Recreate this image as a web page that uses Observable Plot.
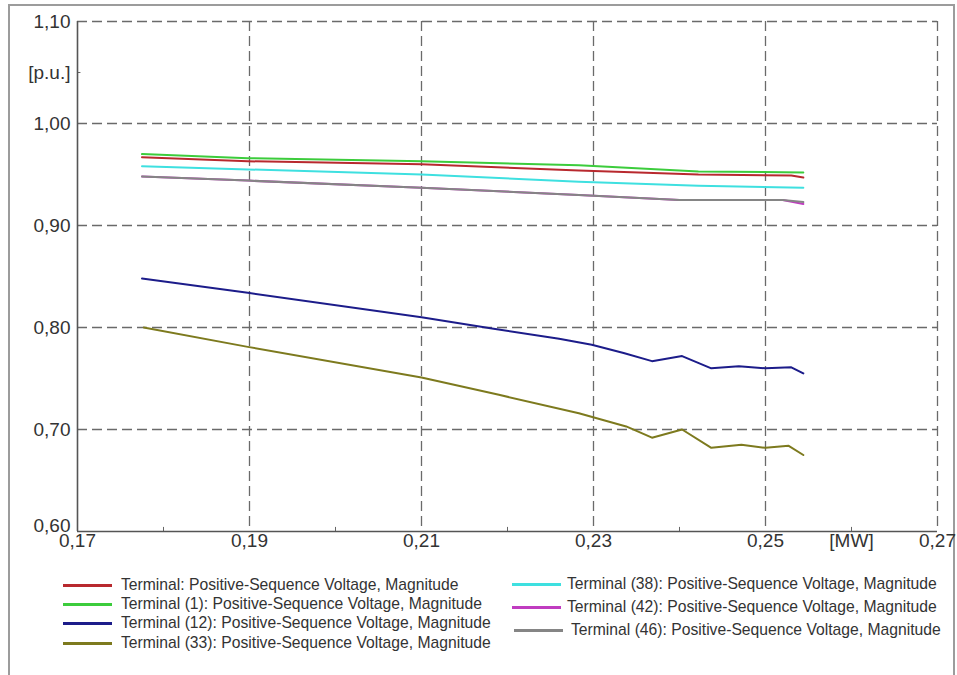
<!DOCTYPE html>
<html>
<head>
<meta charset="utf-8">
<script src="https://cdn.jsdelivr.net/npm/d3@7"></script>
<script src="https://cdn.jsdelivr.net/npm/@observablehq/plot@0.6"></script>
<style>
  html, body { margin: 0; padding: 0; background: #fff; }
  body { width: 957px; height: 675px; position: relative; overflow: hidden; font-family: "Liberation Sans", Arial, sans-serif; }
  #frame { position: absolute; left: 8px; top: 4px; width: 943px; height: 700px; border: 2px solid #9c9c9c; border-bottom: none; }
  #chart { position: absolute; left: 0; top: 0; }
  .leg { position: absolute; font-size: 15.7px; color: #333; white-space: nowrap; }
  .leg .sw { position: absolute; height: 3px; }
  .leg .tx { position: absolute; line-height: 18px; }
</style>
</head>
<body>
<div id="frame"></div>
<div id="chart"></div>
<div id="legend"></div>
<script>
// ---- data (x in MW, y in p.u.) ----
const seriesNames = [
  "Terminal: Positive-Sequence Voltage, Magnitude",
  "Terminal (1): Positive-Sequence Voltage, Magnitude",
  "Terminal (12): Positive-Sequence Voltage, Magnitude",
  "Terminal (33): Positive-Sequence Voltage, Magnitude",
  "Terminal (38): Positive-Sequence Voltage, Magnitude",
  "Terminal (42): Positive-Sequence Voltage, Magnitude",
  "Terminal (46): Positive-Sequence Voltage, Magnitude"
];
const seriesColors = ["#b8292e", "#3ccc3c", "#1c1c8a", "#7d7a1e", "#3ee0e0", "#c03cc0", "#858585"];

const terminal = [[0.1775,0.967],[0.1898,0.963],[0.2100,0.960],[0.2283,0.954],[0.2422,0.950],[0.2530,0.949],[0.2544,0.947]];
const terminal1 = [[0.1775,0.970],[0.1898,0.966],[0.2100,0.963],[0.2283,0.959],[0.2422,0.953],[0.2544,0.952]];
const terminal12 = [[0.1775,0.848],[0.1898,0.834],[0.2100,0.810],[0.2182,0.799],[0.2260,0.789],[0.2298,0.783],[0.2335,0.775],[0.2368,0.767],[0.2403,0.772],[0.2437,0.760],[0.2469,0.762],[0.2500,0.760],[0.2530,0.761],[0.2544,0.755]];
const terminal33 = [[0.1777,0.800],[0.1898,0.781],[0.2100,0.751],[0.2190,0.734],[0.2283,0.716],[0.2338,0.703],[0.2368,0.692],[0.2403,0.700],[0.2437,0.682],[0.2472,0.685],[0.2500,0.682],[0.2527,0.684],[0.2544,0.675]];
const terminal38 = [[0.1775,0.958],[0.1898,0.955],[0.2100,0.950],[0.2283,0.943],[0.2422,0.939],[0.2544,0.937]];
const terminal42 = [[0.1775,0.948],[0.1898,0.944],[0.2100,0.937],[0.2283,0.930],[0.2400,0.925],[0.2520,0.925],[0.2544,0.921]];
const terminal46 = [[0.1775,0.948],[0.1898,0.944],[0.2100,0.937],[0.2283,0.930],[0.2400,0.925],[0.2520,0.925],[0.2544,0.923]];

const xTicks = [0.17, 0.19, 0.21, 0.23, 0.25, 0.26, 0.27];
const xTickLabels = ["0,17", "0,19", "0,21", "0,23", "0,25", "[MW]", "0,27"];
const xGrid = [0.19, 0.21, 0.23, 0.25, 0.27];
const xMinor = [0.18, 0.20, 0.22, 0.24, 0.26];
const yTicks = [0.70, 0.80, 0.90, 1.00, 1.05, 1.10];
const yTickLabels = ["0,70", "0,80", "0,90", "1,00", "[p.u.]", "1,10"];
const yGrid = [0.70, 0.80, 0.90, 1.00, 1.10];

// ---- build table ----
const allSeries = [terminal, terminal1, terminal12, terminal33, terminal38, terminal42, terminal46];
const rows = [];
allSeries.forEach((s, i) => s.forEach(([x, y]) => rows.push({x, y, name: seriesNames[i]})));
const xLab = xTicks.map((v, i) => ({v, t: xTickLabels[i]}));
const yLab = yTicks.map((v, i) => ({v, t: yTickLabels[i]}));

const drawOrder = [seriesNames[5], seriesNames[6], seriesNames[4], seriesNames[0], seriesNames[1], seriesNames[2], seriesNames[3]];

const plot = Plot.plot({
  width: 957,
  height: 570,
  marginLeft: 77,
  marginRight: 20,
  marginTop: 21,
  marginBottom: 39,
  x: {domain: [0.17, 0.27], axis: null},
  y: {domain: [0.60, 1.10], axis: null},
  color: {domain: seriesNames, range: seriesColors},
  style: {fontFamily: "'Liberation Sans', Arial, sans-serif", background: "transparent"},
  marks: [
    Plot.ruleY(yGrid, {stroke: "#6a6a6a", strokeWidth: 1.3, strokeDasharray: "10,5"}),
    Plot.ruleX(xGrid, {stroke: "#6a6a6a", strokeWidth: 1.3, strokeDasharray: "10,5"}),
    Plot.ruleX(xMinor, {y1: 0.60, y2: 0.604, stroke: "#666"}),
    Plot.ruleY([1.05], {x1: 0.17, x2: 0.1704, stroke: "#666"}),
    Plot.ruleX([0.17], {stroke: "#555", strokeWidth: 1.6}),
    Plot.ruleY([0.60], {stroke: "#555", strokeWidth: 1.6}),
    ...drawOrder.map(n => Plot.line(rows.filter(r => r.name === n), {x: "x", y: "y", stroke: "name", strokeWidth: 2})),
    Plot.text(xLab, {x: "v", text: "t", frameAnchor: "bottom", dy: 15, fontSize: 19, fill: "#333"}),
    Plot.text(yLab, {y: "v", text: "t", frameAnchor: "left", dx: -7, textAnchor: "end", fontSize: 19, fill: "#333"}),
    Plot.text([{v: 0.60, t: "0,60"}], {y: "v", text: "t", frameAnchor: "left", dx: -7, dy: -6, textAnchor: "end", fontSize: 19, fill: "#333"})
  ]
});
document.getElementById("chart").appendChild(plot);

// ---- legend ----
const legendPos = [
  {sx: 63, tx: 121, y: 585},
  {sx: 63, tx: 121, y: 604},
  {sx: 63, tx: 121, y: 623},
  {sx: 63, tx: 121, y: 643},
  {sx: 512, tx: 567, y: 584},
  {sx: 512, tx: 567, y: 607},
  {sx: 514, tx: 571, y: 630}
];
const leg = document.getElementById("legend");
seriesNames.forEach((n, i) => {
  const p = legendPos[i];
  const d = document.createElement("div");
  d.className = "leg";
  d.style.left = "0px"; d.style.top = "0px";
  const sw = document.createElement("div");
  sw.className = "sw";
  sw.style.left = p.sx + "px"; sw.style.top = (p.y - 1.5) + "px"; sw.style.width = "49px";
  sw.style.background = seriesColors[i];
  const tx = document.createElement("div");
  tx.className = "tx";
  tx.style.left = p.tx + "px"; tx.style.top = (p.y - 9) + "px";
  tx.textContent = n;
  d.appendChild(sw); d.appendChild(tx);
  leg.appendChild(d);
});
</script>
</body>
</html>
